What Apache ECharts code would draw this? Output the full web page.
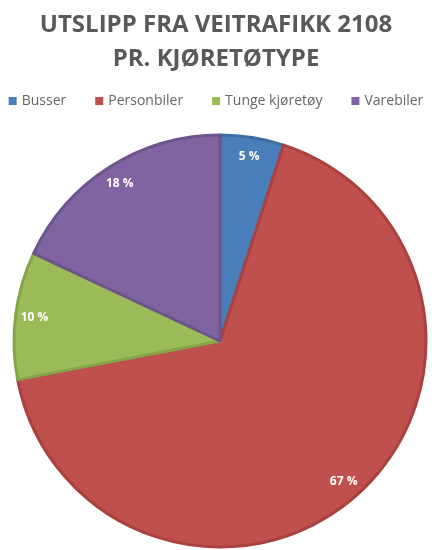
<!DOCTYPE html>
<html>
<head>
<meta charset="utf-8">
<script src="https://cdn.jsdelivr.net/npm/echarts@6/dist/echarts.min.js"></script>
<style>html,body{margin:0;padding:0;background:#fff}#c{width:432px;height:550px}</style>
</head>
<body>
<div id="c"></div>
<script>
const categories = ['Busser', 'Personbiler', 'Tunge kjøretøy', 'Varebiler'];
const values = [5, 67, 10, 18];
const colors = ['#4A7EBB', '#C0504D', '#9BBB59', '#8064A2'];
const borders = ['#3F6DA3', '#A9423F', '#86A54A', '#6D548C'];

const chart = echarts.init(document.getElementById('c'), null, {renderer: 'canvas'});
const mainData = categories.map((n, i) => ({
  name: n, value: values[i],
  itemStyle: {color: colors[i], borderColor: borders[i], borderWidth: 3}
}));
const labelData = categories.map((n, i) => ({name: n, value: values[i]}));
chart.setOption({
  animation: false,
  title: {
    text: 'UTSLIPP FRA VEITRAFIKK 2108\nPR. KJØRETØTYPE',
    left: 'center', top: 3,
    textStyle: {fontFamily: 'Open Sans', fontWeight: 'bold', fontSize: 24, color: '#595959', lineHeight: 34}
  },
  legend: {
    top: 89, left: 'center', icon: 'rect', itemWidth: 8, itemHeight: 8, itemGap: 29, itemStyle: {borderWidth: 0},
    textStyle: {fontFamily: 'Open Sans', fontSize: 14, color: '#666666'},
    data: categories
  },
  series: [{
    type: 'pie', center: [220, 341], radius: [0, 206], startAngle: 90, clockwise: true,
    label: {show: false}, labelLine: {show: false}, silent: true,
    data: mainData
  }, {
    type: 'pie', center: [220, 341], radius: [162, 206], startAngle: 90, clockwise: true,
    silent: true, itemStyle: {color: 'rgba(0,0,0,0)'},
    label: {show: true, position: 'inside', formatter: '{c} %', color: '#fff', fontWeight: 'bold', fontSize: 12, fontFamily: 'Open Sans'},
    labelLine: {show: false},
    data: labelData
  }]
});
</script>
</body>
</html>
